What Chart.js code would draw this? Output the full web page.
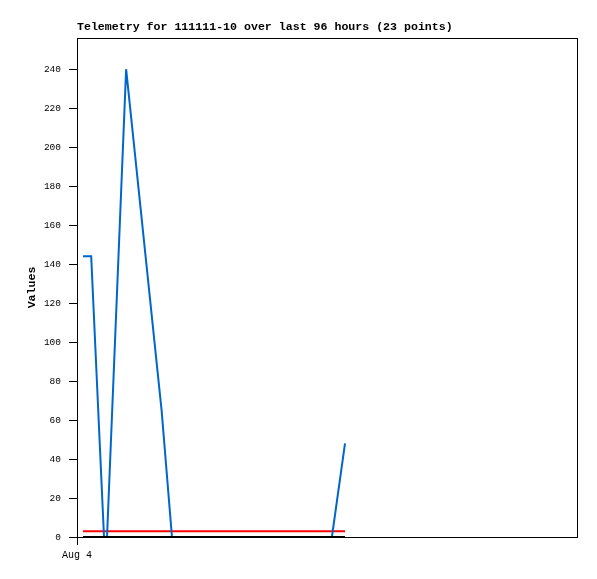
<!DOCTYPE html>
<html>
<head>
<meta charset="utf-8">
<script src="https://cdn.jsdelivr.net/npm/chart.js@4.4.1/dist/chart.umd.min.js"></script>
<style>
  body { margin: 0; background: #ffffff; }
  canvas { display: block; }
</style>
</head>
<body>
<canvas id="telemetryChart" width="597" height="579"></canvas>
<script>
// hours since the first reading
var hours = [0, 3.0, 7.7, 8.8, 15.8, 28.8, 32.6, 36.5, 40.4, 44.3, 48.2, 52.1,
             56.0, 59.9, 63.8, 67.7, 71.6, 75.5, 79.4, 83.3, 87.2, 91.2, 96];
var values = [144, 144, 0, 0, 240, 65, 0, 0, 0, 0, 0, 0,
              0, 0, 0, 0, 0, 0, 0, 0, 0, 0, 48];

var limitHours = [0, 96];
var upperLimit = [3, 3];
var lowerLimit = [0, 0];

var yTicks = [0, 20, 40, 60, 80, 100, 120, 140, 160, 180, 200, 220, 240];
var xTickLabels = ['Aug 4'];
var xMin = -2.2;
var xMax = 181;

function toPoints(xs, ys) {
    return xs.map(function (x, i) {
        return { x: x, y: ys[i] };
    });
}

var frame = {
    id: 'frame',
    afterDraw: function (chart) {
        var a = chart.chartArea;
        var c = chart.ctx;
        c.save();
        c.strokeStyle = '#000000';
        c.lineWidth = 1;
        c.strokeRect(Math.round(a.left) + 0.5, Math.round(a.top) + 0.5,
                     Math.round(a.right - a.left), Math.round(a.bottom - a.top));
        c.fillStyle = '#000000';
        c.font = 'bold 11.6px "Liberation Mono", monospace';
        c.textBaseline = 'alphabetic';
        c.textAlign = 'left';
        c.fillText('Telemetry for 111111-10 over last 96 hours (23 points)', a.left, 30);
        c.restore();
    }
};

var ctx = document.getElementById('telemetryChart').getContext('2d');

var chart = new Chart(ctx, {
    type: 'line',
    data: {
        datasets: [{
            label: 'zero',
            data: toPoints(limitHours, lowerLimit),
            borderColor: '#000000',
            borderWidth: 2,
            pointRadius: 0,
            clip: false,
            order: 0
        }, {
            label: 'Values',
            data: toPoints(hours, values),
            borderColor: '#0066cc',
            borderWidth: 2,
            pointRadius: 0,
            tension: 0,
            clip: false,
            order: 1
        }, {
            label: 'limit',
            data: toPoints(limitHours, upperLimit),
            borderColor: '#ff0000',
            borderWidth: 2,
            pointRadius: 0,
            clip: false,
            order: 2
        }]
    },
    options: {
        responsive: false,
        animation: false,
        layout: {
            padding: { top: 38, right: 20, left: 0, bottom: 0 }
        },
        plugins: {
            legend: { display: false },
            tooltip: { enabled: false }
        },
        scales: {
            x: {
                type: 'linear',
                min: xMin,
                max: xMax,
                afterBuildTicks: function (scale) {
                    scale.ticks = [{ value: xMin }];
                },
                afterFit: function (scale) {
                    scale.height = 42;
                },
                grid: {
                    drawOnChartArea: false,
                    drawTicks: true,
                    tickLength: 8,
                    color: '#000000'
                },
                border: { display: true, color: '#000000', width: 1 },
                ticks: {
                    maxRotation: 0,
                    padding: 4,
                    color: '#000000',
                    font: { family: '"Liberation Mono", monospace', size: 10 },
                    callback: function (value, index) {
                        return xTickLabels[index];
                    }
                }
            },
            y: {
                min: 0,
                max: 256,
                afterBuildTicks: function (scale) {
                    scale.ticks = yTicks.map(function (v) { return { value: v }; });
                },
                afterFit: function (scale) {
                    scale.width = 77;
                },
                grid: {
                    drawOnChartArea: false,
                    drawTicks: true,
                    tickLength: 8,
                    color: '#000000'
                },
                border: { display: true, color: '#000000', width: 1 },
                ticks: {
                    padding: 8,
                    color: '#000000',
                    font: { family: '"Liberation Mono", monospace', size: 9.5 }
                },
                title: {
                    display: true,
                    text: 'Values',
                    color: '#000000',
                    padding: { top: 25, bottom: 0 },
                    font: { family: '"Liberation Mono", monospace', size: 11.6, weight: 'bold' }
                }
            }
        }
    },
    plugins: [frame]
});
</script>
</body>
</html>
